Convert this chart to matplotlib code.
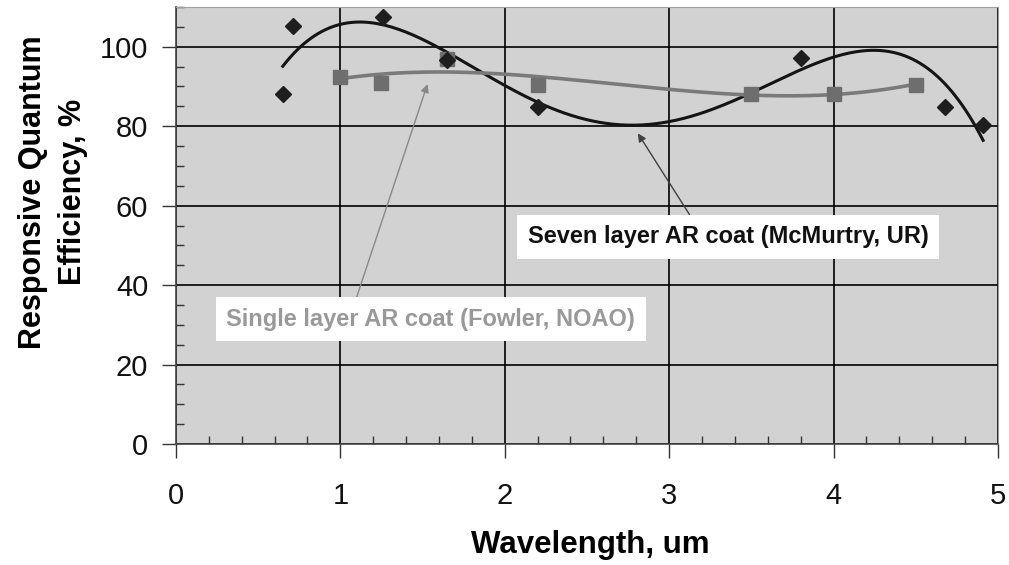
import numpy as np
import matplotlib.pyplot as plt
from matplotlib.ticker import MultipleLocator

plt.rcParams['font.family'] = ['Liberation Sans', 'DejaVu Sans']

# Seven layer AR coat (McMurtry, UR)
seven_x = [0.65, 0.71, 1.26, 1.65, 2.2, 3.8, 4.68, 4.91]
seven_y = [88.0, 105.3, 107.5, 96.7, 84.8, 97.2, 84.8, 80.2]

# Single layer AR coat (Fowler, NOAO)
single_x = [1.0, 1.25, 1.65, 2.2, 3.5, 4.0, 4.5]
single_y = [92.4, 91.0, 97.0, 90.4, 88.2, 88.2, 90.4]

x_ticks = [0, 1, 2, 3, 4, 5]
y_ticks = [0, 20, 40, 60, 80, 100]

fig = plt.figure(figsize=(10.09, 5.65), dpi=100)
ax = fig.add_axes([0.1744, 0.214, 0.8146, 0.7736])
ax.set_facecolor('#d2d2d2')

# polynomial trendlines, like the original spreadsheet
p7 = np.polyfit(seven_x, seven_y, 4)
xs7 = np.linspace(min(seven_x), max(seven_x), 200)
ax.plot(xs7, np.polyval(p7, xs7), color='#141414', lw=2.2, zorder=3)

p1 = np.polyfit(single_x, single_y, 3)
xs1 = np.linspace(min(single_x), max(single_x), 200)
ax.plot(xs1, np.polyval(p1, xs1), color='#7a7a7a', lw=2.6, zorder=3)

ax.plot(single_x, single_y, 's', color='#6e6e6e', ms=10, zorder=4)
ax.plot(seven_x, seven_y, 'D', color='#1e1e1e', ms=8, zorder=5)

ax.set_xlim(0, 5)
ax.set_ylim(0, 110)
ax.set_xticks(x_ticks)
ax.set_yticks(y_ticks)
ax.xaxis.set_minor_locator(MultipleLocator(0.2))
ax.yaxis.set_minor_locator(MultipleLocator(5))
ax.grid(True, which='major', color='black', lw=1.2)
ax.tick_params(which='major', direction='out', length=10, width=1, colors='#333333',
               labelsize=21, labelcolor='#111111')
ax.tick_params(axis='x', which='major', pad=17)
ax.tick_params(axis='y', which='major', pad=10)
ax.tick_params(which='minor', direction='in', length=6, width=1, color='#333333')
for s in ['top', 'right']:
    ax.spines[s].set_color('#a0a0a0')
for s in ['left', 'bottom']:
    ax.spines[s].set_color('#444444')
    ax.spines[s].set_linewidth(1.2)
ax.set_axisbelow(True)

fig.text(590 / 1009, 1 - 545 / 565, 'Wavelength, um', fontsize=22.5, fontweight='bold',
         ha='center', va='center')
fig.text(53 / 1009, 1 - 192 / 565, 'Responsive Quantum\nEfficiency, %', fontsize=22,
         fontweight='bold', rotation=90, ha='center', va='center', multialignment='center',
         linespacing=1.45)

ax.annotate('Seven layer AR coat (McMurtry, UR)', xy=(2.81, 78.2), xytext=(3.36, 52.2),
            ha='center', va='center', fontsize=17, fontweight='bold', color='#111111',
            bbox=dict(boxstyle='square,pad=0.45', fc='white', ec='none'),
            arrowprops=dict(arrowstyle='-|>', color='#404040', lw=1, mutation_scale=12,
                            shrinkA=0, shrinkB=0, relpos=(0.42, 1.0)), zorder=6)
ax.annotate('Single layer AR coat (Fowler, NOAO)', xy=(1.53, 90.6), xytext=(1.55, 31.4),
            ha='center', va='center', fontsize=17, fontweight='bold', color='#999999',
            bbox=dict(boxstyle='square,pad=0.45', fc='white', ec='none'),
            arrowprops=dict(arrowstyle='-|>', color='#888888', lw=1, mutation_scale=12,
                            shrinkA=0, shrinkB=0, relpos=(0.31, 1.0)), zorder=6)

fig.savefig('out.png', dpi=100)
